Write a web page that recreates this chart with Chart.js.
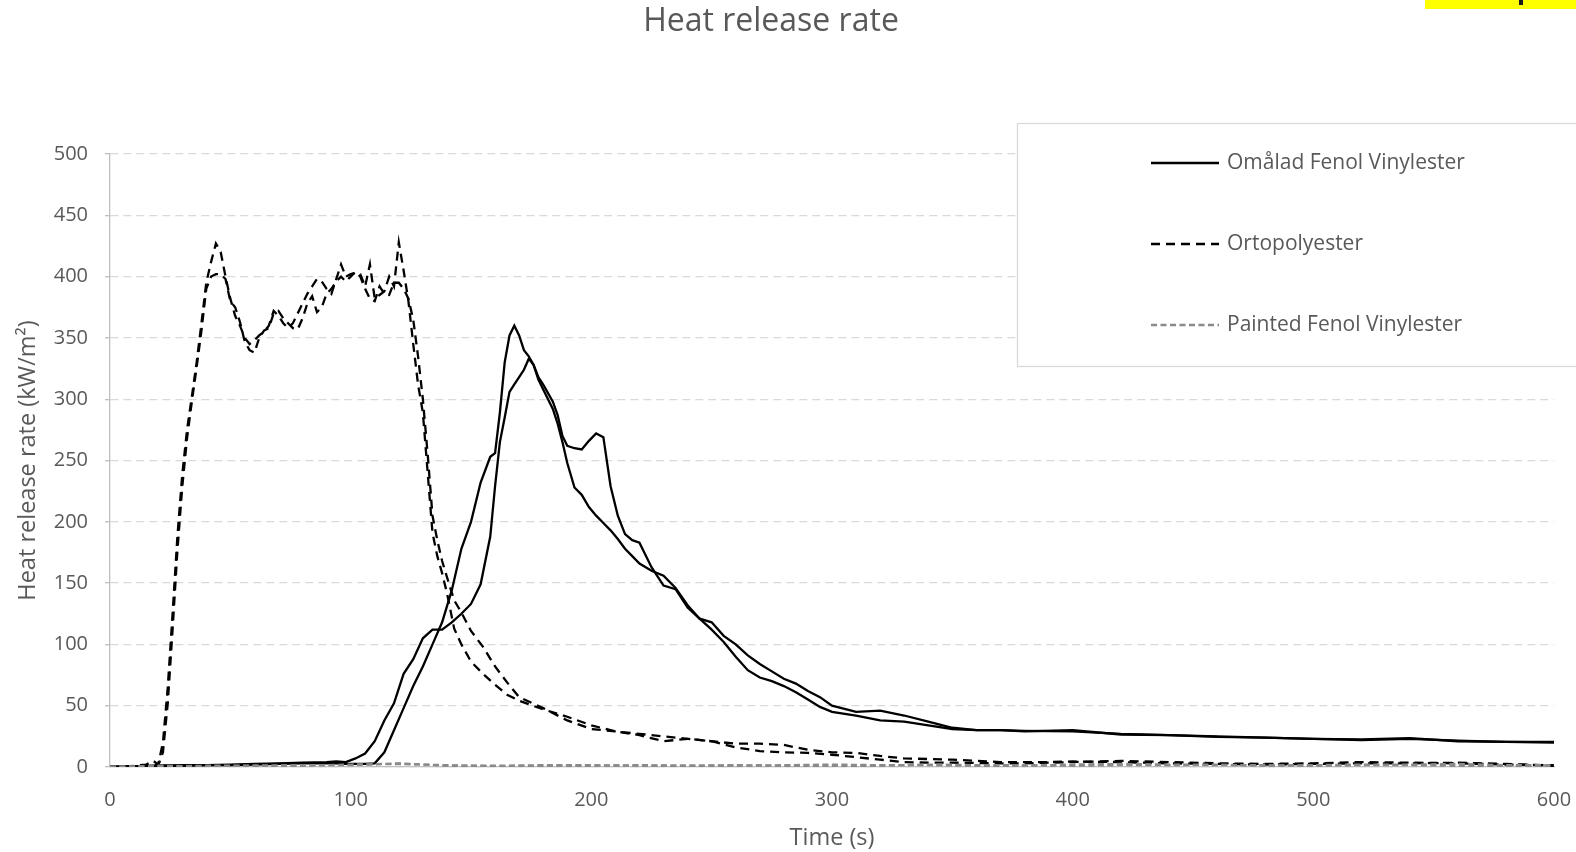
<!DOCTYPE html>
<html>
<head>
<meta charset="utf-8">
<script src="https://cdn.jsdelivr.net/npm/chart.js@4/dist/chart.umd.min.js"></script>
<style>
  html, body { margin: 0; padding: 0; background: #fff; }
  canvas { display: block; }
</style>
</head>
<body>
<canvas id="hrr" width="1576" height="852"></canvas>
<script>
// Ortopolyester, two runs (time in s, HRR in kW/m2)
const ortoTime = [0, 5, 10, 15, 18,
  20, 22, 24, 26, 28, 30, 32, 34, 36, 38, 40, 42, 44, 46, 48, 50, 52, 54, 56, 58, 60,
  62, 64, 66, 68, 70, 72, 74, 76, 78, 80, 82, 84, 86, 88, 90, 92, 94, 96, 98, 100,
  102, 104, 106, 108, 110, 112, 114, 116, 118, 120, 122, 124, 126, 128, 130, 132, 134, 136, 138, 140,
  143, 146, 150, 155, 160, 165, 170,
  180, 190, 200, 210, 220, 230, 240, 250, 260, 270, 280, 290, 300, 310, 320, 330, 340, 350, 360, 370, 380, 390, 400,
  420, 440, 460, 480, 500, 520, 540, 560, 580, 600];
const ortoRun1 = [0, 0, 1, 2, 5,
  2, 20, 65, 125, 188, 238, 275, 302, 330, 362, 395, 412, 427, 420, 400, 382, 368, 360, 350, 345, 348,
  352, 355, 360, 372, 368, 362, 358, 362, 370, 378, 386, 392, 398, 396, 390, 386, 398, 410, 400, 402,
  403, 402, 392, 410, 382, 385, 388, 400, 392, 428, 405, 380, 345, 312, 289, 240, 191, 172, 158, 142,
  113, 100, 86, 76, 67, 59, 54,
  47, 41, 34, 29, 26, 21, 23, 21, 19, 19, 18, 14, 12, 11.5, 9, 7, 6.5, 6, 5, 4, 4, 4, 4.5,
  4, 3, 2.5, 2, 2.5, 3, 3, 3.5, 2.5, 1];
const ortoRun2 = [0, 0, 0.5, 1, 2,
  1, 12, 52, 112, 176, 228, 268, 298, 326, 356, 390, 400, 402, 402, 398, 380, 375, 363, 347, 340, 338,
  350, 356, 358, 370, 372, 366, 362, 358, 357, 366, 378, 384, 371, 375, 386, 390, 396, 400, 396, 400,
  404, 400, 390, 382, 380, 392, 386, 385, 395, 395, 390, 382, 365, 335, 300, 255, 205, 185, 168, 155,
  136, 126, 111, 98, 82, 69, 57,
  48, 38, 31, 29, 27, 25, 23, 21, 16, 13, 12, 11.5, 10, 8, 6, 4, 3.5, 3.5, 3.3, 3, 3, 3.5, 4,
  5, 4, 3, 2.5, 3, 4, 3.5, 3, 2, 1.5];

// Omålad Fenol Vinylester, two runs
const fenolTime = [0, 10, 20, 30, 40, 50, 60, 70, 80, 90,
  94, 98, 102, 106, 110, 114, 118, 122, 126, 130, 134, 138, 142, 146, 150, 154, 158,
  160, 162, 164, 166, 168, 170, 172, 174, 176, 178, 180, 182, 184, 186, 188, 190,
  193, 196, 199, 202, 205, 208, 211, 214, 217, 220,
  225, 230, 235, 240, 245, 250, 255, 260, 265, 270, 275, 280, 285, 290, 295, 300,
  310, 320, 330, 340, 350, 360, 370, 380,
  400, 420, 440, 460, 480, 500, 520, 540, 560, 580, 600];
const fenolRun1 = [0, 0.5, 1, 1, 1.5, 1.5, 2, 2.5, 3, 3,
  3, 2.5, 2.5, 2.5, 3, 12, 30, 48, 66, 82, 100, 118, 144, 178, 200, 232, 253,
  256, 289, 330, 352, 360, 352, 340, 335, 328, 316, 308, 300, 292, 280, 265, 248,
  228, 222, 212, 205, 199, 193, 186, 178, 172, 166,
  160, 156, 146, 132, 121, 112, 102, 90, 79, 73, 70, 66, 61, 55, 49, 45,
  42, 38, 37, 34, 31, 30, 30, 29.5,
  29, 27, 26, 25, 24, 23, 22, 23, 21.5, 20.5, 20];
const fenolRun2 = [0, 0.5, 1, 1.5, 1.5, 2, 2.5, 3, 3.5, 4,
  4.5, 4, 7, 11, 21, 38, 52, 76, 88, 105, 112, 112, 118, 125, 133, 149, 188,
  229, 265, 285, 306, 312, 318, 324, 333, 328, 318, 312, 305, 298, 287, 270, 262,
  260, 259, 266, 272, 269, 229, 205, 190, 185, 183,
  163, 148, 145, 130, 121, 118, 107, 100, 91, 84, 78, 72, 68, 62, 57, 50,
  45, 46, 42, 37, 32, 30, 30, 29,
  30, 26.5, 26, 24.5, 24, 23, 22.5, 23.5, 21, 20.5, 20.5];

// Painted Fenol Vinylester, two runs
const paintTime = [0, 20, 40, 60, 80, 100, 120, 140, 160, 180, 200, 220, 240, 260, 280, 300,
  320, 340, 360, 380, 400, 420, 440, 460, 480, 500, 520, 540, 560, 580, 600];
const paintRun1 = [0, 0.5, 1, 1, 1.5, 1.5, 3, 1, 1, 1.5, 1.5, 1, 1, 1, 1.5, 2,
  1.5, 1.5, 1, 1, 2, 2.5, 2, 1.5, 1.5, 1, 1.5, 1.5, 1, 1, 1];
const paintRun2 = [0, 1, 0.5, 1, 1, 2, 2.5, 1.5, 0.5, 1, 1, 1.5, 1, 1.5, 1, 1,
  1, 2, 1.5, 1.5, 1, 1.5, 1.5, 2, 1, 1.5, 2, 2, 2.5, 1.5, 1.5];

const xTicks = [0, 100, 200, 300, 400, 500, 600];
const yTicks = [0, 50, 100, 150, 200, 250, 300, 350, 400, 450, 500];

const TEXT = '#595959';
const FONT = "'Open Sans', sans-serif";

function pts(time, vals) {
  return time.map((t, i) => ({ x: t, y: vals[i] }));
}

const solid = { borderColor: '#000000', borderWidth: 2.3, borderDash: [] };
const dashed = { borderColor: '#000000', borderWidth: 2.3, borderDash: [9, 6] };
const grey = { borderColor: '#8a8a8a', borderWidth: 2.3, borderDash: [6, 3.5] };

const datasets = [
  { ...grey, data: pts(paintTime, paintRun1), legendLabel: 'Painted Fenol Vinylester', legendRow: 2 },
  { ...grey, data: pts(paintTime, paintRun2) },
  { ...dashed, data: pts(ortoTime, ortoRun1), legendLabel: 'Ortopolyester', legendRow: 1 },
  { ...dashed, data: pts(ortoTime, ortoRun2) },
  { ...solid, data: pts(fenolTime, fenolRun1), legendLabel: 'Omålad Fenol Vinylester', legendRow: 0 },
  { ...solid, data: pts(fenolTime, fenolRun2) },
];

// title, boxed legend over the plot, and the yellow strip in the corner
const overlay = {
  id: 'overlay',
  afterDraw(chart) {
    const c = chart.ctx;
    c.save();
    c.fillStyle = TEXT;
    c.font = `32px ${FONT}`;
    c.textAlign = 'center';
    c.textBaseline = 'middle';
    c.fillText('Heat release rate', 771, 22);

    c.fillStyle = '#ffffff';
    c.fillRect(1017, 123, 570, 244);
    c.strokeStyle = '#d9d9d9';
    c.lineWidth = 1.3;
    c.strokeRect(1017.5, 123.5, 570, 243);

    const rowsY = [163, 244, 325];
    chart.data.datasets.forEach(ds => {
      if (!ds.legendLabel) return;
      const y = rowsY[ds.legendRow];
      c.beginPath();
      c.strokeStyle = ds.borderColor;
      c.lineWidth = ds.borderWidth;
      c.setLineDash(ds.borderDash);
      c.moveTo(1151, y);
      c.lineTo(1219, y);
      c.stroke();
      c.setLineDash([]);
      c.fillStyle = TEXT;
      c.font = `21px ${FONT}`;
      c.textAlign = 'left';
      c.fillText(ds.legendLabel, 1227, y);
    });

    c.fillStyle = '#ffff00';
    c.fillRect(1425, 0, 151, 9);
    c.fillStyle = '#1a1a1a';
    c.fillRect(1519, 0, 4, 5);
    c.restore();
  }
};

new Chart(document.getElementById('hrr'), {
  type: 'line',
  data: { datasets },
  options: {
    responsive: false,
    animation: false,
    events: [],
    layout: { padding: { top: 154, right: 22, left: 0, bottom: 0 } },
    elements: { point: { radius: 0 }, line: { tension: 0, fill: false } },
    plugins: { legend: { display: false }, title: { display: false }, tooltip: { enabled: false } },
    scales: {
      x: {
        type: 'linear', min: 0, max: 600,
        afterBuildTicks: s => { s.ticks = xTicks.map(v => ({ value: v })); },
        afterFit: s => { s.height = 85; s.paddingLeft = 0; s.paddingRight = 0; },
        grid: { display: false, drawTicks: false },
        border: { display: true, color: '#bfbfbf', width: 1.3 },
        ticks: { color: TEXT, font: { family: FONT, size: 20 }, padding: 21, maxRotation: 0 },
        title: { display: true, text: 'Time (s)', color: TEXT, font: { family: FONT, size: 23.5 }, padding: { top: 0, bottom: 0 } },
      },
      y: {
        type: 'linear', min: 0, max: 500,
        afterBuildTicks: s => { s.ticks = yTicks.map(v => ({ value: v })); },
        afterFit: s => { s.width = 110; },
        grid: { color: '#d9d9d9', lineWidth: 1.3, borderDash: [8, 5], tickColor: '#bfbfbf', tickLength: 5, tickBorderDash: [], tickWidth: 1.3 },
        border: { display: true, color: '#bfbfbf', width: 1.3, dash: [8, 5] },
        ticks: { color: TEXT, font: { family: FONT, size: 20 }, padding: 17 },
        title: { display: true, text: 'Heat release rate (kW/m²)', color: TEXT, font: { family: FONT, size: 23.5 }, padding: { top: 14, bottom: 0 } },
      },
    },
  },
  plugins: [overlay],
});
</script>
</body>
</html>
